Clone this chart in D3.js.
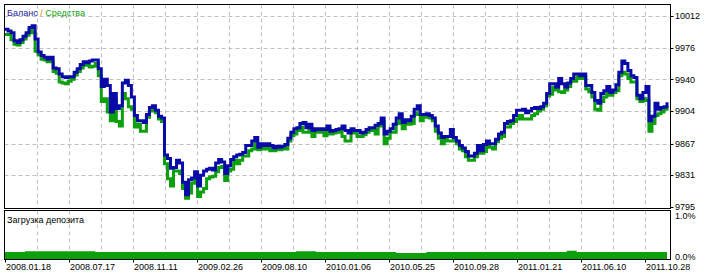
<!DOCTYPE html>
<html>
<head>
<meta charset="utf-8">
<script src="https://cdn.jsdelivr.net/npm/d3@7"></script>
<style>
  body { margin: 0; background: #fff; }
  text { font-family: "Liberation Sans", Arial, sans-serif; font-size: 9px; fill: #000; }
</style>
</head>
<body>
<div id="chart"></div>
<script>
// balance, one reading every ~3 px of the tester graph
var balance = [
  9997, 9995, 9993, 9984, 9982, 9985, 9989, 9993, 9999, 10001,
  9986, 9971, 9967, 9965, 9963, 9965, 9953, 9952, 9946, 9943,
  9942, 9943, 9943, 9948, 9952, 9957, 9960, 9959, 9961, 9962,
  9962, 9952, 9932, 9940, 9933, 9903, 9924, 9907, 9910, 9936,
  9939, 9933, 9920, 9899, 9893, 9893, 9891, 9900, 9908, 9910,
  9905, 9898, 9896, 9854, 9850, 9839, 9840, 9848, 9845, 9823,
  9809, 9826, 9828, 9835, 9819, 9831, 9836, 9838, 9839, 9837,
  9845, 9849, 9846, 9833, 9842, 9849, 9852, 9854, 9855, 9857,
  9865, 9865, 9870, 9874, 9863, 9867, 9865, 9867, 9865, 9862,
  9864, 9863, 9864, 9866, 9873, 9880, 9884, 9885, 9890, 9891,
  9885, 9889, 9882, 9884, 9883, 9884, 9883, 9887, 9881, 9882,
  9883, 9884, 9887, 9882, 9879, 9884, 9882, 9882, 9879, 9880,
  9883, 9885, 9885, 9888, 9890, 9896, 9878, 9881, 9884, 9889,
  9896, 9901, 9891, 9894, 9893, 9898, 9906, 9910, 9900, 9900,
  9901, 9899, 9896, 9887, 9879, 9874, 9875, 9875, 9883, 9874,
  9870, 9865, 9862, 9858, 9853, 9853, 9856, 9865, 9859, 9866,
  9870, 9867, 9867, 9872, 9878, 9880, 9890, 9892, 9893, 9899,
  9905, 9905, 9906, 9902, 9904, 9907, 9908, 9907, 9909, 9913,
  9924, 9935, 9935, 9931, 9941, 9935, 9931, 9936, 9941, 9946,
  9946, 9944, 9946, 9933, 9933, 9925, 9916, 9913, 9924, 9927,
  9932, 9925, 9928, 9934, 9948, 9961, 9958, 9950, 9944, 9942,
  9922, 9918, 9925, 9932, 9893, 9898, 9913, 9906, 9908, 9909,
  9914
];

// how far equity dropped below balance at the same readings
var equityDip = [
  6, 4, 8, 4, 3, 3, 3, 3, 3, 8,
  14, 3, 4, 3, 3, 5, 4, 5, 9, 7,
  7, 5, 3, 3, 3, 4, 3, 3, 7, 7,
  4, 8, 17, 22, 30, 10, 7, 15, 23, 12,
  21, 24, 14, 13, 4, 12, 10, 3, 4, 4,
  3, 3, 4, 10, 23, 20, 4, 12, 12, 7,
  4, 15, 6, 5, 12, 19, 20, 11, 10, 7,
  10, 9, 5, 8, 6, 11, 4, 10, 7, 4,
  12, 6, 9, 7, 3, 4, 4, 4, 6, 3,
  3, 3, 3, 5, 3, 4, 6, 3, 4, 11,
  5, 3, 7, 3, 3, 3, 7, 3, 3, 3,
  3, 3, 12, 12, 9, 4, 3, 7, 4, 3,
  3, 3, 3, 10, 3, 4, 11, 8, 4, 9,
  6, 4, 7, 4, 4, 8, 4, 10, 7, 3,
  3, 3, 3, 6, 6, 7, 3, 5, 13, 3,
  3, 4, 3, 6, 5, 5, 4, 6, 3, 8,
  6, 4, 6, 3, 5, 5, 4, 6, 3, 7,
  10, 6, 11, 7, 9, 8, 7, 3, 3, 3,
  3, 12, 4, 3, 15, 10, 3, 4, 3, 8,
  3, 3, 3, 4, 7, 5, 10, 8, 9, 7,
  8, 3, 3, 7, 4, 13, 12, 9, 7, 5,
  4, 3, 7, 16, 12, 8, 14, 5, 5, 3,
  4
];

// deposit load, %, one reading every ~10 px
var loadPct = [
  0.16, 0.16, 0.18, 0.18, 0.18, 0.18, 0.18, 0.18, 0.18, 0.16,
  0.16, 0.16, 0.16, 0.16, 0.16, 0.16, 0.16, 0.16, 0.16, 0.16,
  0.16, 0.16, 0.16, 0.16, 0.16, 0.16, 0.16, 0.16, 0.16, 0.18,
  0.18, 0.16, 0.16, 0.16, 0.16, 0.16, 0.16, 0.16, 0.16, 0.14,
  0.14, 0.14, 0.16, 0.16, 0.16, 0.16, 0.16, 0.16, 0.16, 0.16,
  0.16, 0.16, 0.16, 0.16, 0.16, 0.16, 0.19, 0.16, 0.16, 0.16,
  0.16, 0.16, 0.16, 0.16, 0.16, 0.16, 0.16
];

var dates = ["2008.01.18", "2008.07.17", "2008.11.11", "2009.02.26", "2009.08.10",
  "2010.01.06", "2010.05.25", "2010.09.28", "2011.01.21", "2011.06.10", "2011.10.28"];

var priceTicks = [9795, 9831, 9867, 9904, 9940, 9976, 10012];
var loadTicks = [0, 1];

var width = 715;
var height = 276;

var left = 4.5, right = 670.5;
var mainTop = 4.5, mainBot = 208.5;
var subTop = 210.5, subBot = 259.5;

var svg = d3.select("#chart")
  .append("svg")
  .attr("width", width)
  .attr("height", height);

var x = d3.scaleLinear()
  .domain([0, balance.length - 1])
  .range([5, 667]);

var xLoad = d3.scaleLinear()
  .domain([0, loadPct.length - 1])
  .range([5, 667]);

var xDate = d3.scalePoint()
  .domain(dates)
  .range([5, 645]);

var y = d3.scaleLinear()
  .domain([9795, 10012])
  .range([207, 16]);

var yLoad = d3.scaleLinear()
  .domain([0, 1])
  .range([259, 216]);

// vertical grid: every date plus halfway between
var step = xDate.step();
var gridX = [];
dates.forEach(function(d, i) {
  if (i > 0) gridX.push(xDate(d));
  gridX.push(xDate(d) + step / 2);
});
gridX = gridX.filter(function(g) { return g < right - 2; });

var grid = svg.append("g")
  .attr("stroke", "#c0c0c0")
  .attr("stroke-dasharray", "4,3")
  .attr("fill", "none");

grid.selectAll(".vmain")
  .data(gridX)
  .enter()
  .append("line")
  .attr("x1", function(d) { return Math.round(d) + 0.5; })
  .attr("x2", function(d) { return Math.round(d) + 0.5; })
  .attr("y1", mainTop)
  .attr("y2", mainBot);

grid.selectAll(".vsub")
  .data(gridX)
  .enter()
  .append("line")
  .attr("x1", function(d) { return Math.round(d) + 0.5; })
  .attr("x2", function(d) { return Math.round(d) + 0.5; })
  .attr("y1", subTop)
  .attr("y2", subBot);

grid.selectAll(".h")
  .data(priceTicks.slice(1))
  .enter()
  .append("line")
  .attr("x1", left)
  .attr("x2", right)
  .attr("y1", function(d) { return Math.round(y(d)) + 0.5; })
  .attr("y2", function(d) { return Math.round(y(d)) + 0.5; });

// equity under, balance on top
var equity = balance.map(function(b, i) { return b - equityDip[i]; });

var line = d3.line()
  .x(function(d, i) { return x(i); })
  .y(function(d) { return y(d); })
  .curve(d3.curveStepAfter);

svg.append("path")
  .datum(equity)
  .attr("fill", "none")
  .attr("stroke", "#0ca00c")
  .attr("stroke-width", 3)
  .attr("d", line);

svg.append("path")
  .datum(balance)
  .attr("fill", "none")
  .attr("stroke", "#0a0aa8")
  .attr("stroke-width", 3)
  .attr("d", line);

// deposit load area
var area = d3.area()
  .x(function(d, i) { return xLoad(i); })
  .y0(yLoad(0))
  .y1(function(d) { return yLoad(d); })
  .curve(d3.curveStepAfter);

svg.append("path")
  .datum(loadPct)
  .attr("fill", "#0ca00c")
  .attr("d", area);

// frames
svg.append("rect")
  .attr("x", left).attr("y", mainTop)
  .attr("width", right - left).attr("height", mainBot - mainTop)
  .attr("fill", "none").attr("stroke", "#000");

svg.append("rect")
  .attr("x", left).attr("y", subTop)
  .attr("width", right - left).attr("height", subBot - subTop)
  .attr("fill", "none").attr("stroke", "#000");

// legend
var legend = svg.append("text")
  .attr("x", 7)
  .attr("y", 16);
legend.append("tspan").style("fill", "#1a1a9a").text("Баланс");
legend.append("tspan").style("fill", "#d08a00").text(" / ");
legend.append("tspan").style("fill", "#10a010").text("Средства");

svg.append("text")
  .attr("x", 7)
  .attr("y", 223)
  .text("Загрузка депозита");

// date axis
svg.selectAll(".dtick")
  .data(dates)
  .enter()
  .append("line")
  .attr("x1", function(d) { return Math.round(xDate(d)) + 0.5; })
  .attr("x2", function(d) { return Math.round(xDate(d)) + 0.5; })
  .attr("y1", subBot)
  .attr("y2", subBot + 3)
  .attr("stroke", "#000");

svg.selectAll(".dlabel")
  .data(dates)
  .enter()
  .append("text")
  .attr("x", function(d) { return xDate(d) + 1; })
  .attr("y", 270)
  .text(function(d) { return d; });

// right axes
svg.selectAll(".ptick")
  .data(priceTicks)
  .enter()
  .append("line")
  .attr("x1", right)
  .attr("x2", right + 3)
  .attr("y1", function(d) { return Math.round(y(d)) + 0.5; })
  .attr("y2", function(d) { return Math.round(y(d)) + 0.5; })
  .attr("stroke", "#000");

svg.selectAll(".plabel")
  .data(priceTicks)
  .enter()
  .append("text")
  .attr("x", 675)
  .attr("y", function(d) { return y(d); })
  .attr("dy", "0.35em")
  .text(function(d) { return d; });

// 0.0% sits a touch higher so it clears the last date
svg.selectAll(".llabel")
  .data(loadTicks)
  .enter()
  .append("text")
  .attr("x", 675)
  .attr("y", function(d) { return d === 0 ? yLoad(d) - 2 : yLoad(d); })
  .attr("dy", "0.35em")
  .text(function(d) { return d.toFixed(1) + "%"; });
</script>
</body>
</html>
